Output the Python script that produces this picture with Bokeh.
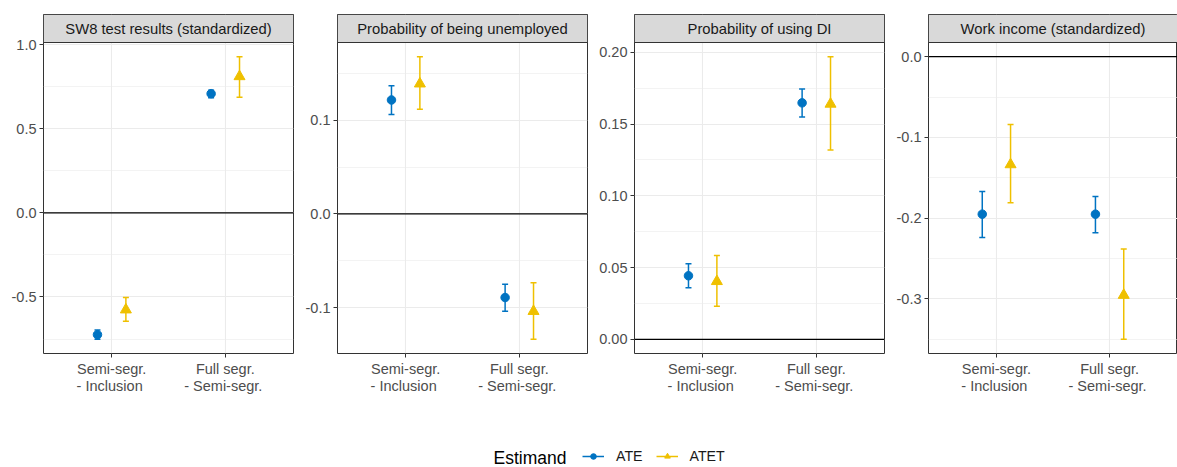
from bokeh.plotting import figure
from bokeh.models import (ColumnDataSource, FactorRange, Range1d, FixedTicker, Span, BoxAnnotation,
                          Whisker, TeeHead, Label, Legend, LegendItem)
from bokeh.layouts import row, column
from bokeh.transform import dodge
from bokeh.core.properties import value
from bokeh.embed import file_html
from bokeh.resources import INLINE

# ---------------- data ----------------
categories = ["Semi-segr.\n - Inclusion", "Full segr.\n - Semi-segr."]
estimands = ["ATE", "ATET"]
colors = ["#0073C2", "#EFC000"]
markers = ["circle", "triangle"]
panel_titles = ["SW8 test results (standardized)", "Probability of being unemployed",
                "Probability of using DI", "Work income (standardized)"]

sw8_ate = [-0.724, 0.708]
sw8_ate_lo = [-0.752, 0.684]
sw8_ate_hi = [-0.697, 0.728]
sw8_atet = [-0.576, 0.810]
sw8_atet_lo = [-0.645, 0.686]
sw8_atet_hi = [-0.503, 0.928]
sw8_ticks = [-0.5, 0.0, 0.5, 1.0]
sw8_tick_labels = ["-0.5", "0.0", "0.5", "1.0"]
sw8_minor = [-0.75, -0.25, 0.25, 0.75]

unemp_ate = [0.1217, -0.0893]
unemp_ate_lo = [0.1063, -0.104]
unemp_ate_hi = [0.137, -0.0751]
unemp_atet = [0.139, -0.104]
unemp_atet_lo = [0.1117, -0.134]
unemp_atet_hi = [0.168, -0.0736]
unemp_ticks = [-0.1, 0.0, 0.1]
unemp_tick_labels = ["-0.1", "0.0", "0.1"]
unemp_minor = [-0.05, 0.05, 0.15]

di_ate = [0.0443, 0.1648]
di_ate_lo = [0.036, 0.155]
di_ate_hi = [0.0527, 0.1745]
di_atet = [0.0404, 0.164]
di_atet_lo = [0.023, 0.132]
di_atet_hi = [0.0585, 0.197]
di_ticks = [0.0, 0.05, 0.10, 0.15, 0.20]
di_tick_labels = ["0.00", "0.05", "0.10", "0.15", "0.20"]
di_minor = [0.025, 0.075, 0.125, 0.175]

inc_ate = [-0.195, -0.195]
inc_ate_lo = [-0.224, -0.218]
inc_ate_hi = [-0.167, -0.173]
inc_atet = [-0.1336, -0.2953]
inc_atet_lo = [-0.181, -0.350]
inc_atet_hi = [-0.084, -0.238]
inc_ticks = [-0.3, -0.2, -0.1, 0.0]
inc_tick_labels = ["-0.3", "-0.2", "-0.1", "0.0"]
inc_minor = [-0.35, -0.25, -0.15, -0.05]

panels = [
    (panel_titles[0], [(sw8_ate, sw8_ate_lo, sw8_ate_hi), (sw8_atet, sw8_atet_lo, sw8_atet_hi)],
     sw8_ticks, sw8_tick_labels, sw8_minor),
    (panel_titles[1], [(unemp_ate, unemp_ate_lo, unemp_ate_hi), (unemp_atet, unemp_atet_lo, unemp_atet_hi)],
     unemp_ticks, unemp_tick_labels, unemp_minor),
    (panel_titles[2], [(di_ate, di_ate_lo, di_ate_hi), (di_atet, di_atet_lo, di_atet_hi)],
     di_ticks, di_tick_labels, di_minor),
    (panel_titles[3], [(inc_ate, inc_ate_lo, inc_ate_hi), (inc_atet, inc_atet_lo, inc_atet_hi)],
     inc_ticks, inc_tick_labels, inc_minor),
]

# ---------------- layout / style ----------------
FONT = "Liberation Sans"
borders = [(43, 5, 250), (39, 5, 250), (42, 5, 250), (39, 0, 249)]
DODGE = 0.125
sizes = [8.5, 11]
PANEL_H = 311
STRIP_H = 28

figs = []
for (title, series, ticks, tlabels, minor), (bl, br, fw) in zip(panels, borders):
    all_lo = [v for s in series for v in s[1]] + [0.0]
    all_hi = [v for s in series for v in s[2]] + [0.0]
    lo, hi = min(all_lo), max(all_hi)
    pad = 0.05 * (hi - lo)
    y0, y1 = lo - pad, hi + pad
    y_strip_top = y1 + (y1 - y0) * STRIP_H / PANEL_H

    p = figure(frame_width=fw, frame_height=PANEL_H + STRIP_H, min_border_left=bl, min_border_right=br,
               min_border_top=14, min_border_bottom=45,
               x_range=FactorRange(*categories, range_padding=0.1),
               y_range=Range1d(y0, y_strip_top),
               toolbar_location=None, output_backend="svg", title=None,
               outline_line_color="#333333", outline_line_width=1,
               background_fill_color="white", border_fill_color="white")

    ticker = FixedTicker(ticks=ticks, minor_ticks=minor)
    p.yaxis.ticker = ticker
    p.yaxis.major_label_overrides = dict(zip(ticks, tlabels))
    for ax in (p.xaxis, p.yaxis):
        ax.axis_line_color = None
        ax.major_tick_in = 0
        ax.major_tick_out = 4
        ax.major_tick_line_color = "#333333"
        ax.minor_tick_line_color = None
        ax.major_label_text_font = FONT
        ax.major_label_text_font_size = "14.5px"
        ax.major_label_text_color = "#4D4D4D"
        ax.major_label_standoff = 3
    p.xaxis.major_label_text_line_height = 1.1
    p.xaxis.major_label_orientation = "horizontal"

    p.ygrid.ticker = ticker
    p.grid.grid_line_color = "#EBEBEB"
    p.grid.grid_line_width = 1.1
    p.ygrid.minor_grid_line_color = "#EBEBEB"
    p.ygrid.minor_grid_line_width = 0.6

    p.add_layout(Span(location=0, dimension="width", line_color="black", line_width=1.3))

    for k, (est, elo, ehi) in enumerate(series):
        src = ColumnDataSource(dict(cat=categories, est=est, lo=elo, hi=ehi))
        off = -DODGE if k == 0 else DODGE
        xs = dodge("cat", off, range=p.x_range)
        p.add_layout(Whisker(source=src, base=xs, lower="lo", upper="hi", dimension="height",
                             line_color=colors[k], line_width=1.5,
                             upper_head=TeeHead(size=6, line_color=colors[k], line_width=1.5),
                             lower_head=TeeHead(size=6, line_color=colors[k], line_width=1.5)))
        p.scatter(x=xs, y="est", source=src, marker=markers[k], size=sizes[k],
                  fill_color=colors[k], line_color=colors[k])

    # facet strip
    p.add_layout(BoxAnnotation(bottom=y1, fill_color="#D9D9D9", fill_alpha=1.0,
                               line_color="#333333", line_width=1, line_alpha=1.0))
    p.add_layout(Label(x=len(categories) / 2, y=(y1 + y_strip_top) / 2, text=title,
                       text_align="center", text_baseline="middle",
                       text_font=FONT, text_font_size="14.8px", text_color="#1A1A1A"))
    figs.append(p)

# ---------------- legend ----------------
lf = figure(width=1177, height=69, min_border=0, toolbar_location=None, output_backend="svg",
            x_range=Range1d(0, 1), y_range=Range1d(0, 1),
            x_axis_type=None, y_axis_type=None, outline_line_color=None, title=None)
nan = float("nan")
items = []
for k, name in enumerate(estimands):
    ksrc = ColumnDataSource(dict(x=[nan], y=[nan]))
    lr = lf.line(x="x", y="y", source=ksrc, line_color=colors[k], line_width=1.5)
    sr = lf.scatter(x="x", y="y", source=ksrc, marker=markers[k], size=sizes[k],
                    fill_color=colors[k], line_color=colors[k])
    items.append(LegendItem(label=value(name), renderers=[lr, sr]))
legend = Legend(items=items, orientation="horizontal", location=(582, 3), padding=0, margin=0,
                border_line_color=None, background_fill_alpha=0, glyph_width=22, glyph_height=14,
                label_height=14, label_standoff=12, spacing=13, label_text_font=FONT,
                label_text_font_size="14.2px", label_text_color="#1A1A1A")
lf.add_layout(legend, "center")
lf.add_layout(Label(x=493, y=10, x_units="screen", y_units="screen", text="Estimand",
                    text_baseline="middle", text_font=FONT, text_font_size="17.5px", text_color="black"))

layout = column(row(*figs, spacing=0), lf, spacing=0)
open("out.html", "w").write(file_html(layout, INLINE))
